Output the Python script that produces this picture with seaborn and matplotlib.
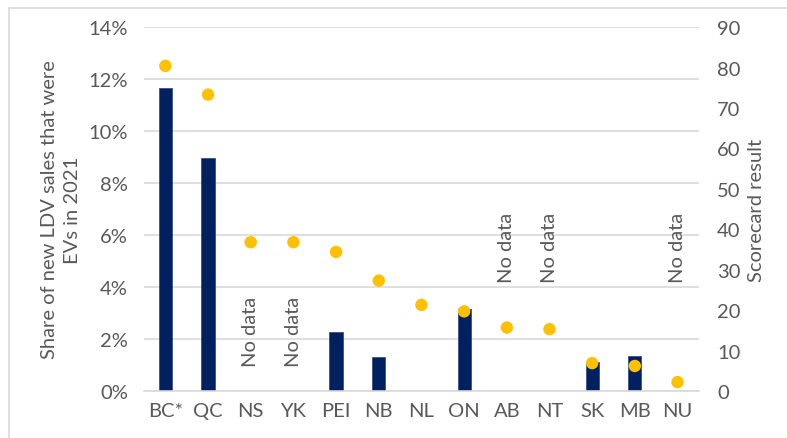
import matplotlib
matplotlib.use("Agg")
import matplotlib.pyplot as plt
from matplotlib.lines import Line2D
import seaborn as sns
import pandas as pd
import numpy as np

categories = ["BC*", "QC", "NS", "YK", "PEI", "NB", "NL", "ON", "AB", "NT", "SK", "MB", "NU"]
ev_share = [11.67, 8.95, np.nan, np.nan, 2.28, 1.31, np.nan, 3.15, np.nan, np.nan, 1.10, 1.36, np.nan]
scorecard = [80.4, 73.3, 36.8, 36.8, 34.4, 27.3, 21.3, 19.7, 15.7, 15.3, 6.9, 6.2, 2.2]
no_data_low = ["NS", "YK"]
no_data_high = ["AB", "NT", "NU"]
left_ticks = [0, 2, 4, 6, 8, 10, 12, 14]
right_ticks = [0, 10, 20, 30, 40, 50, 60, 70, 80, 90]

sns.set_theme(style="white")
plt.rcParams["font.family"] = ["Lato", "DejaVu Sans"]

TXT = "#595959"
GRID = "#D9D9D9"
NAVY = "#002060"
GOLD = "#FFC000"
FS = 14.5

df = pd.DataFrame({"prov": categories, "share": ev_share, "score": scorecard})

fig = plt.figure(figsize=(7.87, 4.39), dpi=100)
ax = fig.add_axes([0.183, 0.107, 0.705, 0.829])

sns.barplot(data=df, x="prov", y="share", order=categories, color=NAVY,
            width=0.31, saturation=1, edgecolor="#3a4f8a", linewidth=0.6, ax=ax)
ax.set_ylim(0, 14)
ax.set_yticks(left_ticks)
ax.set_yticklabels([f"{t}%" for t in left_ticks])
ax.yaxis.grid(True, color=GRID, linewidth=1.2)
ax.set_axisbelow(True)
for s in ["top", "right", "left"]:
    ax.spines[s].set_visible(False)
ax.spines["bottom"].set_color(GRID)
ax.spines["bottom"].set_linewidth(1.2)
ax.tick_params(axis="y", length=0, labelsize=FS, colors=TXT, pad=11.5)
ax.tick_params(axis="x", length=0, labelsize=FS, colors=TXT, pad=8)
ax.set_xlabel("")
ax.set_ylabel("Share of new LDV sales that were\nEVs in 2021", fontsize=FS, color=TXT,
              linespacing=1.45)
ax.yaxis.set_label_coords(-0.113, 0.5)
ax.set_xlim(-0.5, len(categories) - 0.5)

for c in no_data_low:
    ax.text(categories.index(c), 0.96, "No data", rotation=90, ha="center", va="bottom",
            fontsize=FS, color=TXT)
for c in no_data_high:
    ax.text(categories.index(c), 4.2, "No data", rotation=90, ha="center", va="bottom",
            fontsize=FS, color=TXT)

ax2 = ax.twinx()
xpos = np.arange(len(categories))
sns.scatterplot(x=xpos, y=scorecard, color=GOLD, s=80, edgecolor="none", ax=ax2, zorder=5)
ax2.set_ylim(0, 90)
ax2.set_yticks(right_ticks)
ax2.set_xlim(-0.5, len(categories) - 0.5)
for s in ["top", "right", "left", "bottom"]:
    ax2.spines[s].set_visible(False)
ax2.tick_params(axis="y", length=0, labelsize=FS, colors=TXT, pad=13)
ax2.set_ylabel("Scorecard result", fontsize=FS, color=TXT)
ax2.yaxis.set_label_coords(1.088, 0.5)
ax2.grid(False)

# outer frame (left and top)
fig.add_artist(Line2D([9/787, 9/787], [0, 1 - 9/439], color=GRID, linewidth=1.2))
fig.add_artist(Line2D([9/787, 1], [1 - 9/439, 1 - 9/439], color=GRID, linewidth=1.2))

fig.savefig("out.png", dpi=100)
